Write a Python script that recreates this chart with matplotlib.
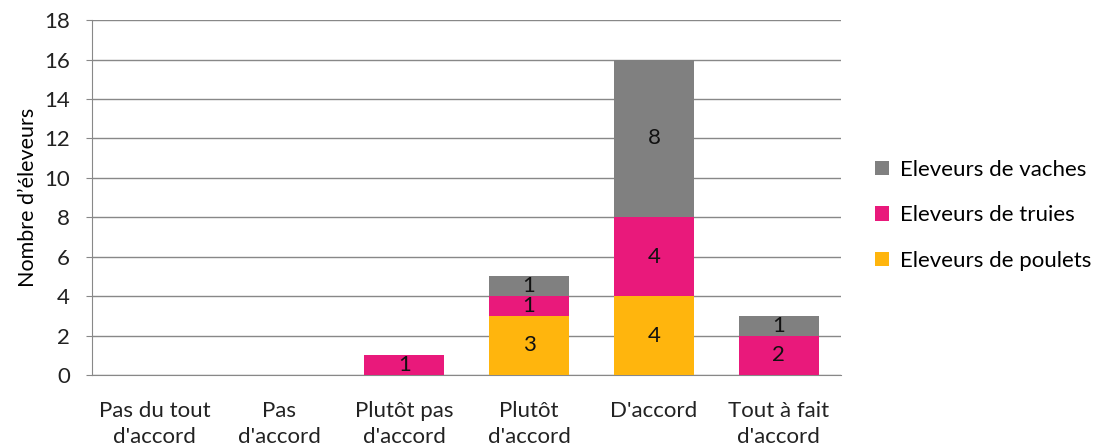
import matplotlib.pyplot as plt
import numpy as np

plt.rcParams['font.family'] = ['Lato', 'DejaVu Sans']

categories = ["Pas du tout\nd'accord", "Pas\nd'accord", "Plutôt pas\nd'accord",
              "Plutôt\nd'accord", "D'accord", "Tout à fait\nd'accord"]
poulets = [0, 0, 0, 3, 4, 0]
truies = [0, 0, 1, 1, 4, 2]
vaches = [0, 0, 0, 1, 8, 1]

series = [("Eleveurs de poulets", poulets, "#FFB50D"),
          ("Eleveurs de truies", truies, "#E9197B"),
          ("Eleveurs de vaches", vaches, "#808080")]

fig = plt.figure(figsize=(11.01, 4.47), dpi=100)
ax = fig.add_axes([0.0836, 0.161, 0.6804, 0.794])

x = np.arange(len(categories))
bottom = np.zeros(len(categories))
handles = []
for name, vals, col in series:
    vals = np.array(vals, dtype=float)
    b = ax.bar(x, vals, 0.64, bottom=bottom, color=col, label=name, zorder=3)
    handles.append(b)
    for xi, v, b0 in zip(x, vals, bottom):
        if v > 0:
            ax.text(xi, b0 + v / 2, f"{int(v)}", ha="center", va="center",
                    fontsize=16, color="#111111", zorder=4)
    bottom += vals

ax.set_xlim(-0.5, len(categories) - 0.5)
ax.set_ylim(0, 18)
ax.set_yticks(range(0, 19, 2))
ax.set_xticks(x)
ax.set_xticklabels(categories, fontsize=16, color="#222222", linespacing=1.35)
ax.tick_params(axis="x", length=0, pad=19)
ax.tick_params(axis="y", labelsize=16, labelcolor="#222222", length=4, color="#888888", pad=12)
ax.yaxis.grid(True, color="#888888", linewidth=1, zorder=0)
ax.set_axisbelow(True)
for s in ["top", "right"]:
    ax.spines[s].set_visible(False)
ax.spines["left"].set_color("#888888")
ax.spines["bottom"].set_color("#888888")
ax.set_ylabel("Nombre d\u2019éleveurs", fontsize=15.5, labelpad=4)

ax.legend(handles[::-1], [h.get_label() for h in handles[::-1]],
          loc="center left", bbox_to_anchor=(1.045, 0.45), frameon=False,
          borderpad=0, borderaxespad=0,
          fontsize=16, handlelength=0.65, handleheight=0.65, labelspacing=1.15,
          handletextpad=0.5)

fig.savefig("out.png", dpi=100)
